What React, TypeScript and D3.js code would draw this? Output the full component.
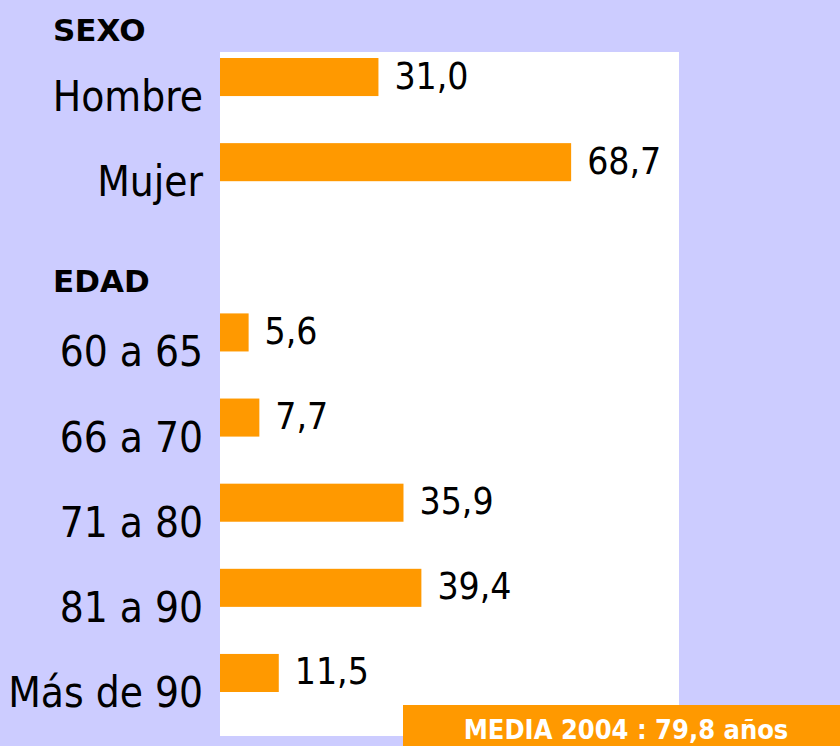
import React from "react";
import * as d3 from "d3";

const categories = ["Hombre", "Mujer", "", "60 a 65", "66 a 70", "71 a 80", "81 a 90", "Más de 90"];
const values: (number | null)[] = [31.0, 68.7, null, 5.6, 7.7, 35.9, 39.4, 11.5];
const valueLabels = ["31,0", "68,7", "", "5,6", "7,7", "35,9", "39,4", "11,5"];
const headings = [
  { text: "SEXO", anchor: "Hombre", dy: -17 },
  { text: "EDAD", anchor: "", dy: 64 },
];
const mediaLabel = "MEDIA 2004 : 79,8 años";
const xMax = 90;

const W = 840;
const H = 746;
const FONT = "'DejaVu Sans Condensed', 'DejaVu Sans', sans-serif";

export default function App() {
  const plot = { left: 220, right: 679, top: 52, bottom: 736 };
  const x = d3.scaleLinear().domain([0, xMax]).range([plot.left, plot.left + 460]);
  const y = d3
    .scaleBand<string>()
    .domain(categories)
    .range([58, 692])
    .paddingInner(0.553)
    .paddingOuter(0);
  const bw = y.bandwidth();

  return (
    <svg
      width={W}
      height={H}
      style={{ position: "absolute", left: 0, top: 0, display: "block" }}
      fontFamily={FONT}
    >
      <rect x={0} y={0} width={W} height={H} fill="#ccccff" />
      <rect
        x={plot.left}
        y={plot.top}
        width={plot.right - plot.left}
        height={plot.bottom - plot.top}
        fill="#ffffff"
      />
      {categories.map((c, i) => {
        const v = values[i];
        const y0 = y(c)!;
        return (
          <g key={i}>
            {v != null && (
              <rect x={x(0)} y={y0} width={x(v) - x(0)} height={bw} fill="#ff9900" />
            )}
            {v != null && (
              <text
                x={x(v) + 16}
                y={y0 + 30.5}
                fontSize={37}
                fill="#000"
                style={{ fontStretch: "condensed" }}
              >
                {valueLabels[i]}
              </text>
            )}
            {c !== "" && (
              <text
                x={203}
                y={y0 + 53}
                fontSize={42}
                textAnchor="end"
                fill="#000"
                style={{ fontStretch: "condensed" }}
              >
                {c}
              </text>
            )}
          </g>
        );
      })}
      {headings.map((h) => (
        <text
          key={h.text}
          x={53}
          y={y(h.anchor)! + h.dy}
          fontSize={31}
          fontWeight="bold"
          fill="#000"
          fontFamily="'DejaVu Sans', sans-serif"
        >
          {h.text}
        </text>
      ))}
      <rect x={403} y={705} width={W - 403} height={H - 705} fill="#ff9900" />
      <text
        x={626}
        y={739}
        fontSize={27}
        fontWeight="bold"
        fill="#ffffff"
        textAnchor="middle"
        style={{ fontStretch: "condensed" }}
      >
        {mediaLabel}
      </text>
    </svg>
  );
}
